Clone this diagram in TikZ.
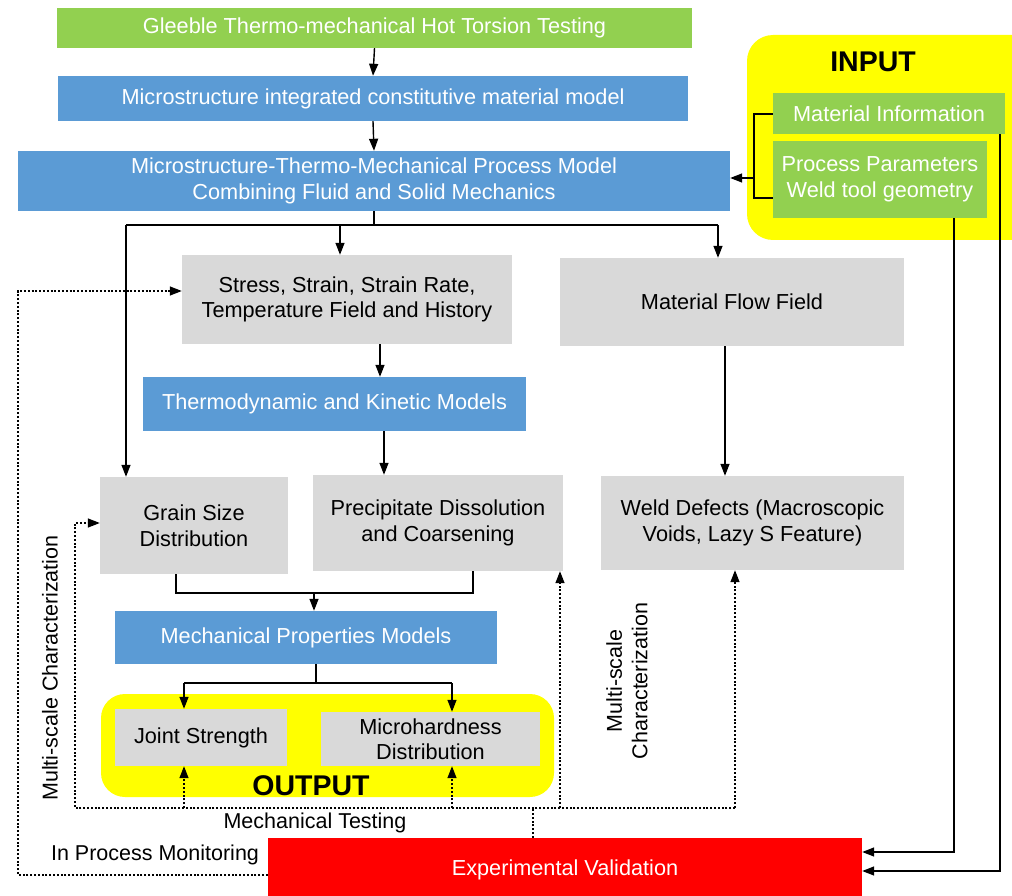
\documentclass[tikz,border=0pt]{standalone}
\usepackage{fontspec}
\setmainfont{Liberation Sans}
\usetikzlibrary{arrows.meta,calc}
\definecolor{cgreen}{HTML}{92D050}
\definecolor{cblue}{HTML}{5B9BD5}
\definecolor{cgray}{HTML}{D9D9D9}
\definecolor{cyellow}{HTML}{FFFF00}
\definecolor{cred}{HTML}{FF0000}
\begin{document}
\begin{tikzpicture}[x=1pt,y=-1pt,
  box/.style={rectangle, inner sep=0pt, align=center, font=\fontsize{21.7}{25.5}\selectfont},
  gbox/.style={box, fill=cgreen, text=white},
  bbox/.style={box, fill=cblue, text=white},
  qbox/.style={box, fill=cgray, text=black},
  rbox/.style={box, fill=cred, text=white},
  ybg/.style={rectangle, fill=cyellow, rounded corners=26pt, inner sep=0pt},
  lbl/.style={inner sep=0pt, align=center, font=\fontsize{21.5}{25.5}\selectfont},
  big/.style={inner sep=0pt, font=\fontsize{28.5}{30}\selectfont\bfseries},
  conn/.style={line width=1.4pt, black},
  arr/.style={conn, -{Triangle[length=12pt,width=9pt]}},
  dotl/.style={line width=1.4pt, black, dash pattern=on 2pt off 1.8pt},
  dotarr/.style={dotl, -{Triangle[length=12pt,width=9pt]}}
]
\useasboundingbox (0,0) rectangle (1012,896);
\clip (0,0) rectangle (1012,896);
\fill[white] (0,0) rectangle (1012,896);

% backgrounds
\node[ybg, minimum width=293pt, minimum height=205pt] (inbg) at (893.5,137.5) {};
\node[ybg, minimum width=453pt, minimum height=103pt, rounded corners=24pt] (outbg) at (327.5,745.5) {};

% boxes
\node[gbox, minimum width=635pt, minimum height=40pt] (gleeble) at (374.5,28) {Gleeble Thermo-mechanical Hot Torsion Testing};
\node[bbox, minimum width=630pt, minimum height=45pt] (micro) at (373,98.5) {Microstructure integrated constitutive material model};
\node[bbox, minimum width=712pt, minimum height=60pt] (mtm) at (374,181) {Microstructure-Thermo-Mechanical Process Model\\Combining Fluid and Solid Mechanics};
\node[qbox, minimum width=330pt, minimum height=89pt] (stress) at (347,299.5) {Stress, Strain, Strain Rate,\\Temperature Field and History};
\node[qbox, minimum width=344pt, minimum height=88pt] (flow) at (732,302) {Material Flow Field};
\node[bbox, minimum width=383pt, minimum height=54pt] (thermo) at (334.5,404) {Thermodynamic and Kinetic Models};
\node[qbox, minimum width=188pt, minimum height=97pt] (grain) at (194,525.5) {Grain Size\\Distribution};
\node[qbox, minimum width=250pt, minimum height=96pt] (precip) at (438,523) {Precipitate Dissolution\\and Coarsening};
\node[qbox, minimum width=303pt, minimum height=94pt] (weld) at (752.5,523) {Weld Defects (Macroscopic\\Voids, Lazy S Feature)};
\node[bbox, minimum width=382pt, minimum height=53pt] (mech) at (306,637.5) {Mechanical Properties Models};
\node[qbox, minimum width=172pt, minimum height=57pt] (joint) at (201,737.5) {Joint Strength};
\node[qbox, minimum width=219pt, minimum height=54pt] (mh) at (430.5,739) {Microhardness\\Distribution};
\node[big] (outlbl) at (311,786) {OUTPUT};
\node[big] (inlbl) at (873,62) {INPUT};
\node[gbox, minimum width=232pt, minimum height=41pt] (matinfo) at (889,113.5) {Material Information};
\node[gbox, minimum width=214pt, minimum height=77pt] (process) at (880,179.5) {Process Parameters\\Weld tool geometry};
\node[rbox, minimum width=594pt, minimum height=64pt] (red) at (565,870) {Experimental Validation};

% labels
\node[lbl] (mt) at (315,823) {Mechanical Testing};
\node[lbl] (ipm) at (155,855) {In Process Monitoring};
\node[lbl, rotate=90] (msc1) at (50,668) {Multi-scale Characterization};
\node[lbl, rotate=90, fill=white] (msc2) at (627,681) {Multi-scale\\Characterization};

% top chain
\draw[arr] (gleeble.south) -- (micro.north);
\draw[arr] (micro.south) -- (mtm.north);

% split below process model
\coordinate (jL) at (126,225);
\coordinate (jM) at (340,225);
\coordinate (jR) at (718,225);
\draw[conn] (mtm.south) -- (mtm.south |- jL);
\draw[conn] (jL) -- (jR);
\draw[arr] (jL) -- (jL |- grain.north);
\draw[arr] (jM) -- (jM |- stress.north);
\draw[arr] (jR) -- (jR |- flow.north);

\coordinate (xa) at (380,0);
\coordinate (xb) at (384,0);
\coordinate (xc) at (725,0);
\draw[arr] (stress.south -| xa) -- (thermo.north -| xa);
\draw[arr] (thermo.south -| xb) -- (precip.north -| xb);
\draw[arr] (flow.south -| xc) -- (weld.north -| xc);

% merge to mechanical properties
\coordinate (jg) at (176,593);
\coordinate (jp) at (473,593);
\coordinate (jm) at (314,593);
\draw[conn] (grain.south -| jg) -- (jg) -- (jp) -- (precip.south -| jp);
\draw[arr] (jm) -- (jm |- mech.north);

% split to outputs
\coordinate (k0) at (316,683);
\coordinate (k1) at (184,683);
\coordinate (k2) at (452,683);
\draw[conn] (mech.south -| k0) -- (k0);
\draw[conn] (k1) -- (k2);
\draw[arr] (k1) -- (k1 |- joint.north);
\draw[arr] (k2) -- (k2 |- mh.north);

% input bracket
\coordinate (ibt) at (754,114);
\coordinate (ibb) at (754,198);
\coordinate (ib) at (754,178);
\draw[conn] (matinfo.west |- ibt) -- (ibt) -- (ibb) -- (ibb -| process.west);
\draw[arr] (ib) -- (ib -| mtm.east);

% input to experimental validation
\coordinate (r1) at (954,852);
\coordinate (r2) at (1000,871);
\draw[arr] (process.south -| r1) -- (r1) -- (r1 -| red.east);
\draw[arr] (matinfo.south -| r2) -- (r2) -- (r2 -| red.east);

% outer dotted loop (in process monitoring)
\coordinate (o1) at (18,875);
\coordinate (o2) at (18,291);
\draw[dotarr] (o1 -| red.west) -- (o1) -- (o2) -- (o2 -| stress.west);

% inner dotted loop (characterization / testing)
\coordinate (d0) at (533,808);
\coordinate (dL) at (75,808);
\coordinate (dLt) at (75,523);
\coordinate (dR) at (735,808);
\coordinate (d1) at (184,808);
\coordinate (d2) at (452,808);
\coordinate (d3) at (560,808);
\draw[dotl] (d0 |- red.north) -- (d0);
\draw[dotarr] (dR) -- (dL) -- (dLt) -- (dLt -| grain.west);
\draw[dotarr] (d1) -- (d1 |- joint.south);
\draw[dotarr] (d2) -- (d2 |- mh.south);
\draw[dotarr] (d3) -- (d3 |- precip.south);
\draw[dotarr] (dR) -- (dR |- weld.south);
\end{tikzpicture}
\end{document}
